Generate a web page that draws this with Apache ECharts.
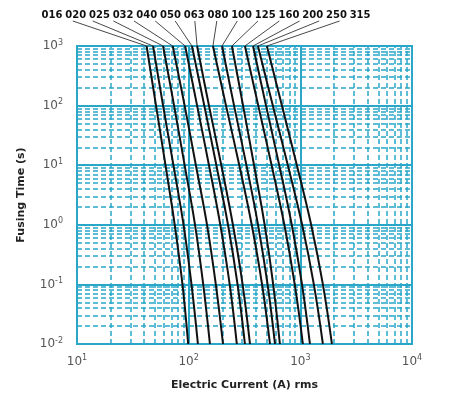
<!DOCTYPE html>
<html>
<head>
<meta charset="utf-8">
<script src="https://cdn.jsdelivr.net/npm/echarts@6/dist/echarts.min.js"></script>
<style>html,body{margin:0;padding:0;background:#fff}#c{width:450px;height:409px}</style>
</head>
<body>
<div id="c"></div>
<script>
// Fusing times (s) at which the currents below are read
const times = [1000, 100, 10, 1, 0.1, 0.01];
// Fuse ratings (labels on top)
const ratings = ['016','020','025','032','040','050','063','080','100','125','160','200','250','315'];
// Current (A rms) for each rating at the times above
const c016 = [42, 51, 62, 75, 88, 99];
const c020 = [48, 59, 73, 90, 106, 121];
const c025 = [59, 74, 92, 114, 135, 155];
const c032 = [72, 92, 116, 146, 175, 203];
const c040 = [93, 119, 152, 192, 233, 270];
const c050 = [107, 138, 177, 225, 274, 319];
const c063 = [119, 152, 196, 249, 304, 354];
const c080 = [165, 216, 284, 367, 454, 535];
const c100 = [199, 255, 329, 418, 509, 593];
const c125 = [244, 307, 385, 479, 571, 656];
const c160 = [319, 420, 553, 719, 891, 1054];
const c200 = [377, 493, 647, 838, 1035, 1219];
const c250 = [417, 567, 773, 1038, 1321, 1592];
const c315 = [502, 684, 931, 1250, 1592, 1919];
const currents = [c016, c020, c025, c032, c040, c050, c063, c080, c100, c125, c160, c200, c250, c315];
// Axis ranges
const xMin = 10, xMax = 10000, yMin = 0.01, yMax = 1000;

const GRID = '#2aa6c9';
const FONT = 'DejaVu Sans';

// minor log gridlines (2..9 within each decade)
function minorVals(lo, hi) {
  const out = [];
  for (let d = lo; d < hi; d *= 10) {
    for (let m = 2; m <= 9; m++) out.push(+(m * d).toPrecision(3));
  }
  return out;
}
const minorLines = [];
minorVals(xMin, xMax).forEach(v => minorLines.push({ xAxis: v }));
minorVals(yMin, yMax).forEach(v => minorLines.push({ yAxis: v }));

function pow10Label(v) {
  const e = Math.round(Math.log10(v));
  return '{b|10}{s|' + e + '}';
}
const labelRich = {
  b: { fontFamily: FONT, fontSize: 12, color: '#555' },
  s: { fontFamily: FONT, fontSize: 8, color: '#555', verticalAlign: 'top', padding: [0, 0, 7, 0] }
};

const series = [{
  type: 'line',
  data: [],
  silent: true,
  z: 1,
  markLine: {
    silent: true,
    symbol: ['none', 'none'],
    label: { show: false },
    lineStyle: { color: GRID, width: 1.5, type: [5, 3] },
    animation: false,
    data: minorLines
  }
}];
ratings.forEach((r, i) => {
  series.push({
    name: r,
    type: 'line',
    smooth: 0.4,
    showSymbol: false,
    symbol: 'none',
    z: 5,
    lineStyle: { color: '#111', width: 2 },
    data: currents[i].map((a, k) => [a, times[k]])
  });
});

const chart = echarts.init(document.getElementById('c'), null, { renderer: 'canvas' });
chart.setOption({
  animation: false,
  backgroundColor: '#fff',
  grid: { left: 77, right: 38, top: 46, bottom: 65, show: true, borderColor: GRID, borderWidth: 2 },
  xAxis: {
    type: 'log', logBase: 10, min: xMin, max: xMax,
    axisLine: { show: false }, axisTick: { show: false },
    splitLine: { show: true, lineStyle: { color: GRID, width: 2 } },
    axisLabel: { margin: 10, formatter: pow10Label, rich: labelRich },
    name: 'Electric Current (A) rms', nameLocation: 'middle', nameGap: 36,
    nameTextStyle: { fontFamily: FONT, fontSize: 11, fontWeight: 'bold', color: '#222' }
  },
  yAxis: {
    type: 'log', logBase: 10, min: yMin, max: yMax,
    axisLine: { show: false }, axisTick: { show: false },
    splitLine: { show: true, lineStyle: { color: GRID, width: 2 } },
    axisLabel: { margin: 14, formatter: pow10Label, rich: labelRich },
    name: 'Fusing Time (s)', nameLocation: 'middle', nameGap: 50,
    nameTextStyle: { fontFamily: FONT, fontSize: 11, fontWeight: 'bold', color: '#222' }
  },
  series: series
});

// Rating labels with leader lines to the top of each curve
const elements = [];
ratings.forEach((r, i) => {
  const cx = 52 + i * 23.7;
  const tgt = chart.convertToPixel({ gridIndex: 0 }, [currents[i][0], times[0]]);
  const sy = 21;
  const sx = cx + (tgt[0] - cx) * 0.22;
  elements.push({
    type: 'text', x: cx, y: 15, silent: true,
    style: { text: r, font: 'bold 10px "DejaVu Sans"', fill: '#111', textAlign: 'center', textVerticalAlign: 'middle' }
  });
  elements.push({
    type: 'line', silent: true,
    shape: { x1: sx, y1: sy, x2: tgt[0], y2: tgt[1] },
    style: { stroke: '#333', lineWidth: 0.9 }
  });
});
chart.setOption({ graphic: { elements: elements } });
</script>
</body>
</html>
